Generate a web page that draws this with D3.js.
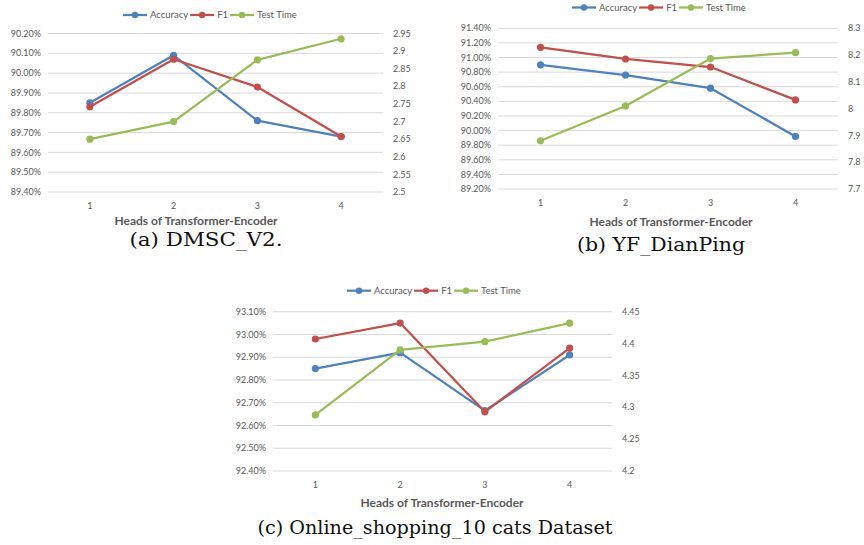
<!DOCTYPE html>
<html>
<head>
<meta charset="utf-8">
<script src="https://cdn.jsdelivr.net/npm/d3@7"></script>
<style>
  body { margin: 0; background: #fff; }
  svg { display: block; }
  .tick-lbl { font-family: Lato, "Open Sans", sans-serif; font-size: 9px; fill: #595959; }
  .xtitle { font-family: Lato, sans-serif; font-size: 12px; font-weight: bold; fill: #595959; }
  .caption { font-family: "DejaVu Serif", "Liberation Serif", serif; font-size: 18px; fill: #111; }
  .leg { font-family: Lato, sans-serif; font-size: 9.5px; fill: #595959; }
</style>
</head>
<body>
<svg id="chart" width="864" height="545"></svg>
<script>
// shared
const heads = [1, 2, 3, 4];
const seriesNames = ["Accuracy", "F1", "Test Time"];
const colors = ["#4f81bd", "#c0504d", "#9bbb59"];

// (a) DMSC_V2
const accA = [89.85, 90.09, 89.76, 89.68];
const f1A = [89.83, 90.07, 89.93, 89.68];
const timeA = [2.65, 2.70, 2.875, 2.935];
const leftTicksA = [89.4, 89.5, 89.6, 89.7, 89.8, 89.9, 90.0, 90.1, 90.2];
const rightTicksA = [2.5, 2.55, 2.6, 2.65, 2.7, 2.75, 2.8, 2.85, 2.9, 2.95];

// (b) YF_DianPing
const accB = [90.90, 90.76, 90.58, 89.92];
const f1B = [91.14, 90.98, 90.87, 90.42];
const timeB = [7.88, 8.01, 8.187, 8.209];
const leftTicksB = [89.2, 89.4, 89.6, 89.8, 90.0, 90.2, 90.4, 90.6, 90.8, 91.0, 91.2, 91.4];
const rightTicksB = [7.7, 7.8, 7.9, 8.0, 8.1, 8.2, 8.3];

// (c) Online_shopping_10 cats
const accC = [92.85, 92.92, 92.665, 92.91];
const f1C = [92.98, 93.05, 92.66, 92.94];
const timeC = [4.288, 4.39, 4.403, 4.432];
const leftTicksC = [92.4, 92.5, 92.6, 92.7, 92.8, 92.9, 93.0, 93.1];
const rightTicksC = [4.2, 4.25, 4.3, 4.35, 4.4, 4.45];

const svg = d3.select("#chart");

function drawChart(cfg) {
  let g = svg.append("g");

  let x = d3.scalePoint().domain(heads).range([cfg.x0, cfg.x1]).padding(0.5);
  let yL = d3.scaleLinear()
      .domain(d3.extent(cfg.leftTicks))
      .range([cfg.yBot, cfg.yTop]);
  let yR = d3.scaleLinear()
      .domain(d3.extent(cfg.rightTicks))
      .range([cfg.yBot, cfg.yTop]);

  // gridlines
  g.selectAll(".grid")
    .data(cfg.leftTicks)
    .join("line")
      .attr("x1", cfg.x0)
      .attr("x2", cfg.x1)
      .attr("y1", d => yL(d))
      .attr("y2", d => yL(d))
      .attr("stroke", "#d9d9d9")
      .attr("stroke-width", 1);

  // left tick labels
  g.selectAll(".ltick")
    .data(cfg.leftTicks)
    .join("text")
      .attr("class", "tick-lbl")
      .attr("x", cfg.x0 - 7)
      .attr("y", d => yL(d))
      .attr("dy", "0.35em")
      .attr("text-anchor", "end")
      .text(d => d.toFixed(2) + "%");

  // right tick labels
  g.selectAll(".rtick")
    .data(cfg.rightTicks)
    .join("text")
      .attr("class", "tick-lbl")
      .attr("x", cfg.x1 + 10)
      .attr("y", d => yR(d))
      .attr("dy", "0.35em")
      .attr("text-anchor", "start")
      .text(d => String(+d.toFixed(2)));

  // x tick labels
  g.selectAll(".xtick")
    .data(heads)
    .join("text")
      .attr("class", "tick-lbl")
      .attr("x", d => x(d))
      .attr("y", cfg.yBot + 14)
      .attr("dy", "0.35em")
      .attr("text-anchor", "middle")
      .text(d => d);

  g.append("text")
    .attr("class", "xtitle")
    .attr("x", cfg.titleX)
    .attr("y", cfg.titleY)
    .attr("dy", "0.35em")
    .attr("text-anchor", "middle")
    .text("Heads of Transformer-Encoder");

  g.append("text")
    .attr("class", "caption")
    .attr("x", cfg.capX)
    .attr("y", cfg.capY)
    .attr("dy", "0.35em")
    .attr("text-anchor", "middle")
    .attr("textLength", cfg.capW)
    .attr("lengthAdjust", "spacingAndGlyphs")
    .text(cfg.caption);

  // series
  let series = [
    { name: seriesNames[0], color: colors[0], values: cfg.acc, y: yL },
    { name: seriesNames[1], color: colors[1], values: cfg.f1, y: yL },
    { name: seriesNames[2], color: colors[2], values: cfg.time, y: yR }
  ];

  series.forEach(s => {
    let pts = heads.map((h, i) => [x(h), s.y(s.values[i])]);
    g.append("path")
      .attr("d", d3.line()(pts))
      .attr("fill", "none")
      .attr("stroke", s.color)
      .attr("stroke-width", 2.25)
      .attr("stroke-linejoin", "round");
    g.selectAll(null)
      .data(pts)
      .join("circle")
        .attr("cx", d => d[0])
        .attr("cy", d => d[1])
        .attr("r", 3.6)
        .attr("fill", s.color);
  });

  // legend
  let lx = cfg.legX;
  series.forEach(s => {
    g.append("line")
      .attr("x1", lx).attr("x2", lx + 24)
      .attr("y1", cfg.legY).attr("y2", cfg.legY)
      .attr("stroke", s.color)
      .attr("stroke-width", 2.25);
    g.append("circle")
      .attr("cx", lx + 12).attr("cy", cfg.legY)
      .attr("r", 3.2)
      .attr("fill", s.color);
    let t = g.append("text")
      .attr("class", "leg")
      .attr("x", lx + 27)
      .attr("y", cfg.legY)
      .attr("dy", "0.35em")
      .text(s.name);
    lx += 27 + t.node().getComputedTextLength() + 2;
  });
}

drawChart({
  acc: accA, f1: f1A, time: timeA,
  leftTicks: leftTicksA, rightTicks: rightTicksA,
  x0: 48, x1: 383, yTop: 33.5, yBot: 192,
  legX: 123, legY: 15,
  titleX: 196, titleY: 221,
  capX: 206, capY: 240, capW: 153, caption: "(a) DMSC_V2."
});

drawChart({
  acc: accB, f1: f1B, time: timeB,
  leftTicks: leftTicksB, rightTicks: rightTicksB,
  x0: 498, x1: 838, yTop: 28.3, yBot: 189,
  legX: 572, legY: 7.5,
  titleX: 671, titleY: 222,
  capX: 661, capY: 245, capW: 168, caption: "(b) YF_DianPing"
});

drawChart({
  acc: accC, f1: f1C, time: timeC,
  leftTicks: leftTicksC, rightTicks: rightTicksC,
  x0: 273, x1: 612, yTop: 311.7, yBot: 471,
  legX: 347, legY: 290.7,
  titleX: 442, titleY: 503,
  capX: 435, capY: 528, capW: 355, caption: "(c) Online_shopping_10 cats Dataset"
});
</script>
</body>
</html>
